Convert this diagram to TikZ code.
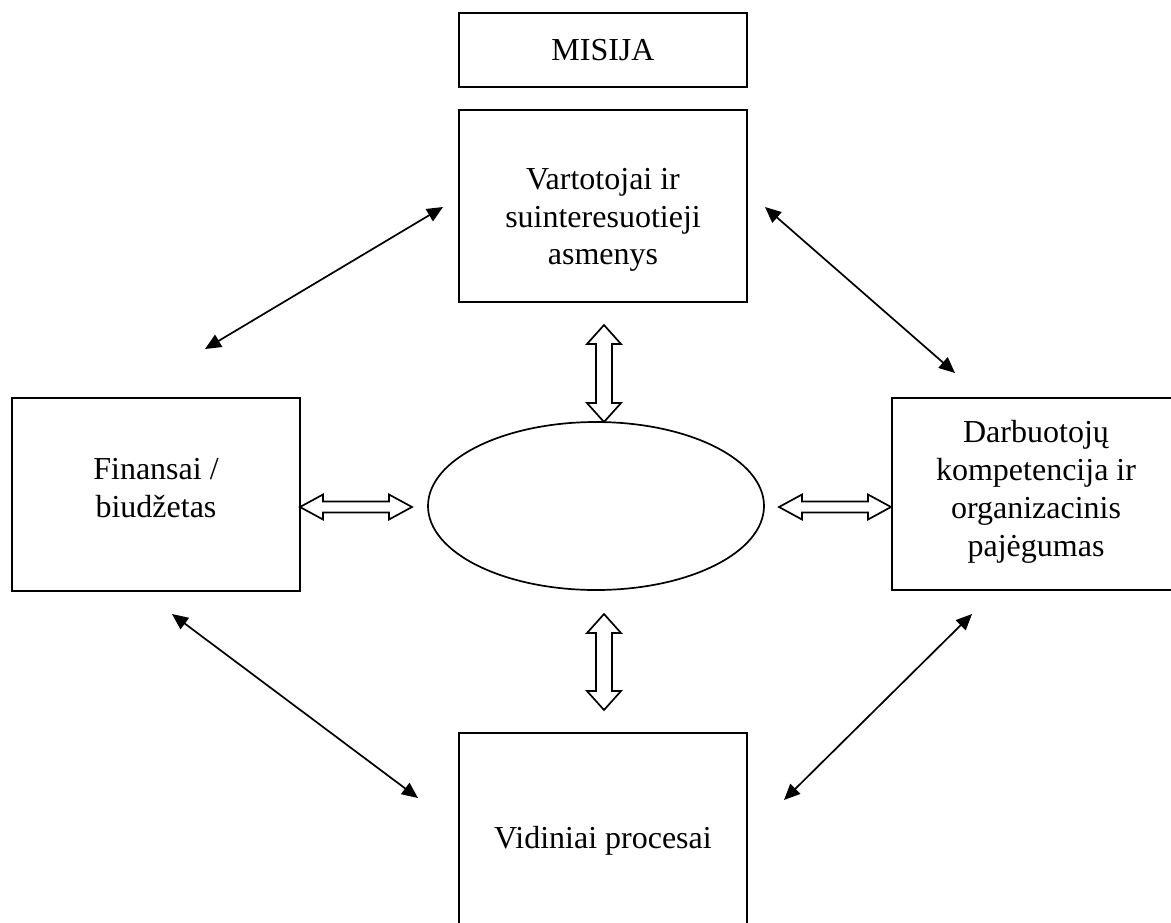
\documentclass[tikz,border=0pt]{standalone}
\usepackage{fontspec}
\setmainfont{Liberation Serif}
\usetikzlibrary{arrows.meta,shapes.geometric,calc}

% Outlined block arrow between two points (horizontal or vertical)
\newcommand{\blockarrowH}[3]{% x1, x2, y
  \draw[blockline] (#1,#3) -- ++(23,-12.5) -- ++(0,7) -- ({#2-23},{#3-5.5}) -- ++(0,-7) -- (#2,#3)
    -- ({#2-23},{#3+12.5}) -- ++(0,-7) -- ({#1+23},{#3+5.5}) -- ++(0,7) -- cycle;}
\newcommand{\blockarrowV}[3]{% x, y1, y2
  \draw[blockline] (#1,#2) -- ++(17,19) -- ++(-9,0) -- ({#1+8},{#3-19}) -- ++(9,0) -- (#1,#3)
    -- ({#1-17},{#3-19}) -- ++(9,0) -- ({#1-8},{#2+19}) -- ++(-9,0) -- cycle;}

\tikzset{
  box/.style={draw, line width=1pt, inner sep=0pt, minimum width=144pt, minimum height=96pt},
  label text/.style={align=center, inner sep=0pt, font=\fontsize{16}{18.9}\selectfont},
  link/.style={line width=0.85pt, {Triangle[length=8pt,width=7pt]}-{Triangle[length=8pt,width=7pt]}},
  blockline/.style={line width=0.85pt, line join=miter},
}

\begin{document}
\begin{tikzpicture}[x=0.5pt, y=-0.5pt]
  \useasboundingbox (0,0) rectangle (1171,922);
  \clip (0,0) rectangle (1171,922);

  % boxes
  \node[box, minimum height=37pt] (mis) at (603,50) {};
  \node[label text] (mis-t) at (603,50) {MISIJA};

  \node[box] (cust) at (603,206) {};
  \node[label text] (cust-t) at (603,220) {Vartotojai ir\\suinteresuotieji\\asmenys};

  \node[box, minimum height=96.5pt] (fin) at (156,494.5) {};
  \node[label text] (fin-t) at (156,488) {Finansai /\\biudžetas};

  \node[box] (staff) at (1036,494) {};
  \node[label text] (staff-t) at (1036,492) {Darbuotojų\\kompetencija ir\\organizacinis\\pajėgumas};

  \node[box] (proc) at (603,829) {};
  \node[label text] (proc-t) at (603,841) {Vidiniai procesai};

  % centre ellipse
  \node[draw, ellipse, line width=0.85pt, minimum width=168pt, minimum height=84pt, inner sep=0pt] (core) at (596,506) {};

  % thin two-headed links between the perspectives
  \coordinate (l1a) at (443,207);  \coordinate (l1b) at (205,349);
  \coordinate (l2a) at (765,207);  \coordinate (l2b) at (955,373);
  \coordinate (l3a) at (172,614);  \coordinate (l3b) at (418,798);
  \coordinate (l4a) at (972,614);  \coordinate (l4b) at (784,800);
  \draw[link] (l1a) -- (l1b);
  \draw[link] (l2a) -- (l2b);
  \draw[link] (l3a) -- (l3b);
  \draw[link] (l4a) -- (l4b);

  % hollow block arrows to the centre
  \blockarrowH{300}{412}{507}
  \blockarrowH{779}{891}{507}
  \blockarrowV{604}{325}{422}
  \blockarrowV{604}{614}{710}
\end{tikzpicture}
\end{document}
